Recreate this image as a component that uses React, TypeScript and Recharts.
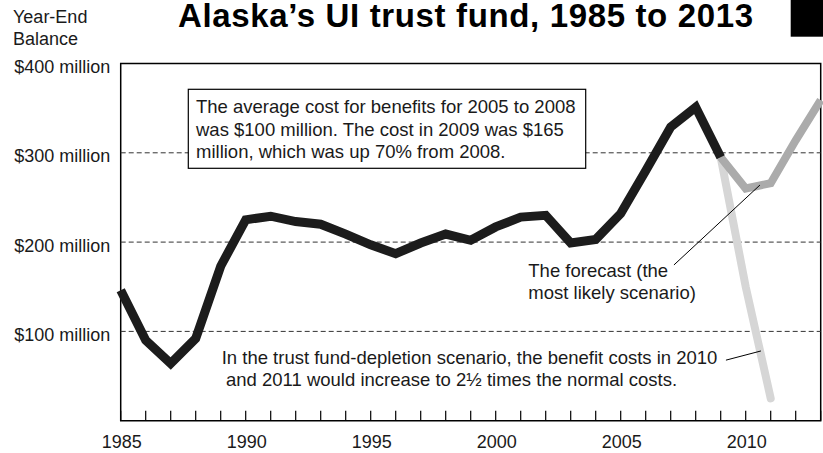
import React from 'react';
import { LineChart, Line, XAxis, YAxis, ReferenceLine, ReferenceArea } from 'recharts';

const FONT = '"Liberation Sans", Arial, Helvetica, sans-serif';

// years on the x axis (a tick for every year)
const years = [
  1985, 1986, 1987, 1988, 1989, 1990, 1991, 1992, 1993, 1994,
  1995, 1996, 1997, 1998, 1999, 2000, 2001, 2002, 2003, 2004,
  2005, 2006, 2007, 2008, 2009, 2010, 2011, 2012, 2013,
];
const labelYears = [1985, 1990, 1995, 2000, 2005, 2010];

// year-end balance, $ millions
const balanceYears = [
  1985, 1986, 1987, 1988, 1989, 1990, 1991, 1992, 1993, 1994,
  1995, 1996, 1997, 1998, 1999, 2000, 2001, 2002, 2003, 2004,
  2005, 2006, 2007, 2008, 2009,
];
const balance = [
  146, 90, 64, 92, 173, 225, 229, 223, 220, 209,
  197, 187, 199, 209, 202, 217, 228, 230, 199, 203,
  232, 280, 329, 351, 295,
];

// most likely scenario
const forecastYears = [2009, 2010, 2011, 2012, 2013];
const forecast = [295, 260, 266, 314, 359];

// trust fund-depletion scenario
const depletionYears = [2009, 2010, 2011];
const depletion = [295, 150, 25];

const yTicks = [100, 200, 300, 400];
const gridValues = [100, 200, 300];

const pick = (ys: number[], vals: number[], year: number) => {
  const i = ys.indexOf(year);
  return i < 0 ? undefined : vals[i];
};

const rows = years.map((year) => ({
  year,
  balance: pick(balanceYears, balance, year),
  forecast: pick(forecastYears, forecast, year),
  depletion: pick(depletionYears, depletion, year),
}));

const YearTick = (props: any) => {
  const { x, y, payload } = props;
  return (
    <g>
      <line x1={x} y1={y} x2={x} y2={y - 10} stroke="#000" strokeWidth={1.2} />
      {labelYears.includes(payload.value) && (
        <text x={x + 1} y={y + 27.5} textAnchor="middle" fontSize={18} fill="#1a1a1a" fontFamily={FONT}>
          {payload.value}
        </text>
      )}
    </g>
  );
};

const MoneyTick = (props: any) => {
  const { x, y, payload } = props;
  return (
    <text x={x - 10.5} y={y + 9.5} textAnchor="end" fontSize={18} fill="#1a1a1a" fontFamily={FONT}>
      {`$${payload.value} million`}
    </text>
  );
};

const Annotations = () => (
  <svg
    width={823}
    height={453}
    style={{ position: 'absolute', left: 0, top: 0, pointerEvents: 'none' }}
    fontFamily={FONT}
  >
    <text x={178} y={26.5} fontSize={33} fontWeight="bold" fill="#000" textLength={575} lengthAdjust="spacing">
      Alaska’s UI trust fund, 1985 to 2013
    </text>
    <rect x={790.7} y={0} width={33} height={36.7} fill="#000" />
    <text x={13} y={23.3} fontSize={18} fill="#1a1a1a">Year-End</text>
    <text x={13} y={45.3} fontSize={18} fill="#1a1a1a">Balance</text>

    <rect x={188.3} y={89.3} width={397.4} height={79} fill="#fff" stroke="#000" strokeWidth={1.2} />
    <text fontSize={18.5} fill="#1a1a1a">
      <tspan x={196} y={113}>The average cost for benefits for 2005 to 2008</tspan>
      <tspan x={196} y={135.5}>was $100 million. The cost in 2009 was $165</tspan>
      <tspan x={196} y={158}>million, which was up 70% from 2008.</tspan>
    </text>

    <text fontSize={18.5} fill="#1a1a1a">
      <tspan x={528.3} y={276.7}>The forecast (the</tspan>
      <tspan x={528.3} y={298.7}>most likely scenario)</tspan>
    </text>

    <text fontSize={18.5} fill="#1a1a1a">
      <tspan x={221.7} y={364.3}>In the trust fund-depletion scenario, the benefit costs in 2010</tspan>
      <tspan x={226} y={386}>and 2011 would increase to 2½ times the normal costs.</tspan>
    </text>
  </svg>
);

export default function App() {
  return (
    <div style={{ position: 'absolute', left: 0, top: 0, width: 823, height: 453, background: '#fff' }}>
      <LineChart
        width={823}
        height={453}
        data={rows}
        margin={{ top: 63.5, right: 2.3, bottom: 0, left: 0 }}
      >
        <XAxis
          dataKey="year"
          type="number"
          domain={[1985, 2013]}
          ticks={years}
          interval={0}
          height={32.3}
          axisLine={false}
          tickLine={false}
          tickSize={0}
          tickMargin={0}
          tick={<YearTick />}
        />
        <YAxis
          type="number"
          domain={[0, 400]}
          ticks={yTicks}
          interval={0}
          width={120.7}
          axisLine={false}
          tickLine={false}
          tickSize={0}
          tickMargin={0}
          tick={<MoneyTick />}
        />
        {gridValues.map((v) => (
          <ReferenceLine key={v} y={v} stroke="#333" strokeWidth={1} strokeDasharray="5 3" />
        ))}
        <Line
          dataKey="depletion"
          stroke="#d6d6d6"
          strokeWidth={8}
          strokeLinecap="round"
          dot={false}
          activeDot={false}
          isAnimationActive={false}
        />
        <Line
          dataKey="forecast"
          stroke="#ababab"
          strokeWidth={8}
          dot={false}
          activeDot={false}
          isAnimationActive={false}
        />
        <Line
          dataKey="balance"
          stroke="#1c1c1c"
          strokeWidth={9}
          dot={false}
          activeDot={false}
          isAnimationActive={false}
        />
        <ReferenceLine
          segment={[{ x: 2007.13, y: 174.4 }, { x: 2010.57, y: 263.9 }]}
          stroke="#000"
          strokeWidth={1}
          ifOverflow="visible"
        />
        <ReferenceLine
          segment={[{ x: 2009.21, y: 67.8 }, { x: 2010.61, y: 78.1 }]}
          stroke="#000"
          strokeWidth={1}
          ifOverflow="visible"
        />
        <ReferenceArea
          x1={1985}
          x2={2013}
          y1={0}
          y2={400}
          fill="none"
          fillOpacity={0}
          stroke="#000"
          strokeWidth={1.5}
          ifOverflow="visible"
        />
      </LineChart>
      <Annotations />
    </div>
  );
}
